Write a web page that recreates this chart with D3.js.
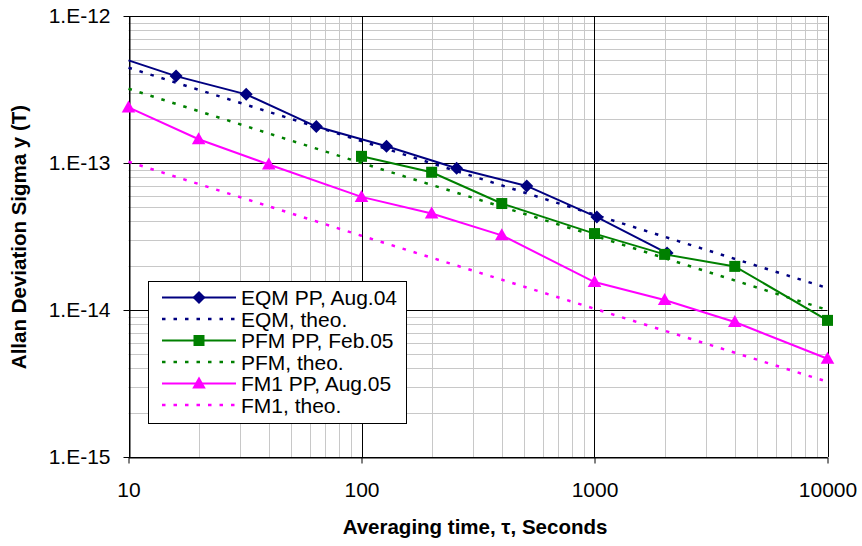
<!DOCTYPE html>
<html>
<head>
<meta charset="utf-8">
<script src="https://cdnjs.cloudflare.com/ajax/libs/d3/7.8.5/d3.min.js"></script>
<style>
  body { margin: 0; background: #fff; }
  svg { display: block; font-family: "Liberation Sans", Arial, sans-serif; }
</style>
</head>
<body>
<div id="chart"></div>
<script>
// averaging times (s) and Allan deviation values
var eqmTau = [10, 16, 32, 64, 128, 256, 512, 1024, 2048];
var eqmPP = [4.99e-13, 3.9e-13, 2.93e-13, 1.77e-13, 1.30e-13, 9.2e-14, 6.98e-14, 4.29e-14, 2.44e-14];
var eqmMarked = [false, true, true, true, true, true, true, true, true];

var pfmTau = [100, 200, 400, 1000, 2000, 4000, 10000];
var pfmPP = [1.11e-13, 8.65e-14, 5.3e-14, 3.31e-14, 2.39e-14, 1.98e-14, 8.5e-15];

var fm1Tau = [10, 20, 40, 100, 200, 400, 1000, 2000, 4000, 10000];
var fm1PP = [2.39e-13, 1.45e-13, 9.77e-14, 5.88e-14, 4.53e-14, 3.22e-14, 1.55e-14, 1.17e-14, 8.28e-15, 4.66e-15];

var theoTau = [10, 100, 1000, 10000];
var eqmTheo = [4.45e-13, 1.41e-13, 4.45e-14, 1.41e-14];
var pfmTheo = [3.2e-13, 1.0e-13, 3.2e-14, 1.0e-14];
var fm1Theo = [1.02e-13, 3.2e-14, 1.02e-14, 3.25e-15];

var xTicks = [10, 100, 1000, 10000];
var xTickLabels = ["10", "100", "1000", "10000"];
var yTicks = [1e-12, 1e-13, 1e-14, 1e-15];
var yTickLabels = ["1.E-12", "1.E-13", "1.E-14", "1.E-15"];

var legendNames = ["EQM PP, Aug.04", "EQM, theo.", "PFM PP, Feb.05", "PFM, theo.", "FM1  PP, Aug.05", "FM1, theo."];

var W = 862, H = 546;
var pLeft = 128.5, pRight = 827.5, pTop = 16, pBottom = 457;

var svg = d3.select("#chart").append("svg")
    .attr("width", W).attr("height", H);

var x = d3.scaleLog().domain([10, 10000]).range([pLeft, pRight]);
var y = d3.scaleLog().domain([1e-15, 1e-12]).range([pBottom, pTop]);

function isMajor(v) {
  var l = Math.log10(v);
  return Math.abs(l - Math.round(l)) < 1e-9;
}

// grid: minor first, then decades in black
var grid = svg.append("g");
var xg = x.ticks(), yg = y.ticks();
grid.selectAll(".xmin").data(xg.filter(function(d) { return !isMajor(d); }))
  .enter().append("line")
  .attr("x1", function(d) { return Math.round(x(d)) + 0.5; })
  .attr("x2", function(d) { return Math.round(x(d)) + 0.5; })
  .attr("y1", pTop).attr("y2", pBottom)
  .attr("stroke", "#c8c8c8").attr("stroke-width", 1);
grid.selectAll(".ymin").data(yg.filter(function(d) { return !isMajor(d); }))
  .enter().append("line")
  .attr("y1", function(d) { return Math.round(y(d)) + 0.5; })
  .attr("y2", function(d) { return Math.round(y(d)) + 0.5; })
  .attr("x1", pLeft).attr("x2", pRight)
  .attr("stroke", "#c8c8c8").attr("stroke-width", 1);
grid.selectAll(".xmaj").data(xTicks)
  .enter().append("line")
  .attr("x1", function(d) { return Math.round(x(d)) + 0.5; })
  .attr("x2", function(d) { return Math.round(x(d)) + 0.5; })
  .attr("y1", pTop).attr("y2", pBottom)
  .attr("stroke", "#000").attr("stroke-width", 1);
grid.selectAll(".ymaj").data(yTicks)
  .enter().append("line")
  .attr("y1", function(d) { return Math.round(y(d)) + 0.5; })
  .attr("y2", function(d) { return Math.round(y(d)) + 0.5; })
  .attr("x1", pLeft).attr("x2", pRight)
  .attr("stroke", "#000").attr("stroke-width", 1);

// axes
var xAxis = d3.axisBottom(x).tickValues(xTicks)
  .tickFormat(function(d, i) { return xTickLabels[i]; })
  .tickSize(6).tickSizeOuter(0).tickPadding(19);
var yAxis = d3.axisLeft(y).tickValues(yTicks)
  .tickFormat(function(d, i) { return yTickLabels[i]; })
  .tickSize(6).tickSizeOuter(0).tickPadding(13);

var gx = svg.append("g").attr("transform", "translate(0," + (Math.round(pBottom) + 0.5) + ")").call(xAxis);
var gy = svg.append("g").attr("transform", "translate(" + (Math.round(pLeft) + 0.5) + ",0)").call(yAxis);
[gx, gy].forEach(function(g) {
  g.selectAll("path, line").attr("stroke", "#000").attr("stroke-width", 1);
  g.selectAll("text").attr("font-size", 21).attr("fill", "#000")
    .attr("font-family", "'Liberation Sans', Arial, sans-serif");
});

// axis titles
svg.append("text")
  .attr("x", 475).attr("y", 534)
  .attr("text-anchor", "middle")
  .attr("font-size", 20.5).attr("font-weight", "bold")
  .text("Averaging time, \u03c4, Seconds");
svg.append("text")
  .attr("transform", "translate(25.5,237) rotate(-90)")
  .attr("text-anchor", "middle")
  .attr("font-size", 20.5).attr("font-weight", "bold")
  .text("Allan Deviation Sigma y (T)");

// markers
function markerPath(type) {
  if (type == "diamond") return "M0,-6.5L6.5,0L0,6.5L-6.5,0Z";
  if (type == "square") return "M-5.5,-5.5H5.5V5.5H-5.5Z";
  if (type == "triangle") return "M0,-7L6.8,5L-6.8,5Z";
  return "";
}

var line = d3.line()
  .x(function(d) { return x(d[0]); })
  .y(function(d) { return y(d[1]); });

var plot = svg.append("g");

function solidSeries(tau, vals, color, marker, marked) {
  var pts = tau.map(function(t, i) { return [t, vals[i], marked ? marked[i] : true]; });
  plot.append("path").datum(pts)
    .attr("d", line).attr("fill", "none")
    .attr("stroke", color).attr("stroke-width", 2);
  plot.selectAll(null).data(pts.filter(function(p) { return p[2]; }))
    .enter().append("path")
    .attr("transform", function(d) { return "translate(" + x(d[0]) + "," + y(d[1]) + ")"; })
    .attr("d", markerPath(marker))
    .attr("fill", color);
}
function dotSeries(tau, vals, color) {
  var pts = tau.map(function(t, i) { return [t, vals[i]]; });
  plot.append("path").datum(pts)
    .attr("d", line).attr("fill", "none")
    .attr("stroke", color).attr("stroke-width", 2.5)
    .attr("stroke-dasharray", "3.5,8");
}

var navy = "#000080", green = "#008000", magenta = "#ff00ff";
solidSeries(eqmTau, eqmPP, navy, "diamond", eqmMarked);
dotSeries(theoTau, eqmTheo, navy);
solidSeries(pfmTau, pfmPP, green, "square");
dotSeries(theoTau, pfmTheo, green);
solidSeries(fm1Tau, fm1PP, magenta, "triangle");
dotSeries(theoTau, fm1Theo, magenta);

// legend
var legendStyle = [
  { color: navy, marker: "diamond", dotted: false },
  { color: navy, dotted: true },
  { color: green, marker: "square", dotted: false },
  { color: green, dotted: true },
  { color: magenta, marker: "triangle", dotted: false },
  { color: magenta, dotted: true }
];
var lg = svg.append("g");
lg.append("rect")
  .attr("x", 148.5).attr("y", 281.5).attr("width", 258).attr("height", 142)
  .attr("fill", "#fff").attr("stroke", "#000").attr("stroke-width", 1);
legendNames.forEach(function(name, i) {
  var ry = 297.5 + i * 21.5;
  var s = legendStyle[i];
  var ln = lg.append("line")
    .attr("x1", 162).attr("x2", 236).attr("y1", ry).attr("y2", ry)
    .attr("stroke", s.color).attr("stroke-width", s.dotted ? 2.5 : 2);
  if (s.dotted) ln.attr("stroke-dasharray", "3.5,8");
  if (s.marker) {
    lg.append("path")
      .attr("transform", "translate(199," + ry + ")")
      .attr("d", markerPath(s.marker)).attr("fill", s.color);
  }
  lg.append("text")
    .attr("x", 241).attr("y", ry).attr("dy", "0.36em")
    .attr("font-size", 21).attr("fill", "#000")
    .text(name);
});
</script>
</body>
</html>
